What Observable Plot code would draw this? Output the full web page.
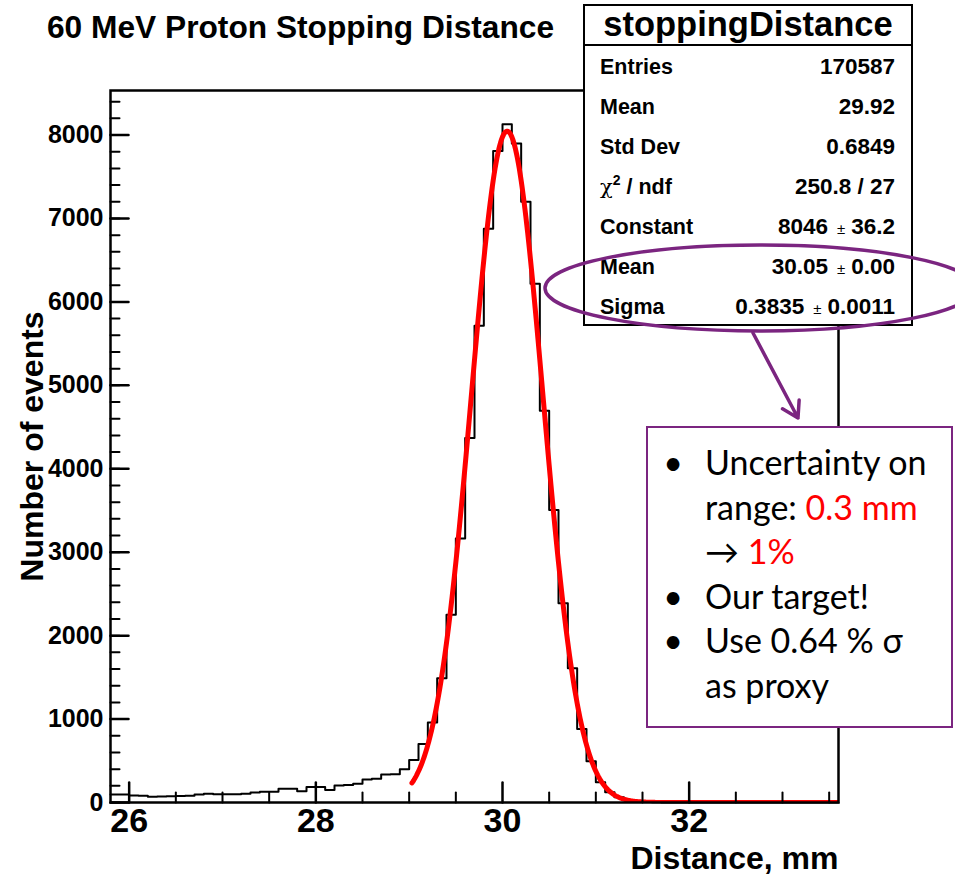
<!DOCTYPE html>
<html><head><meta charset="utf-8">
<script src="https://cdn.jsdelivr.net/npm/d3@7"></script>
<script src="https://cdn.jsdelivr.net/npm/@observablehq/plot@0.6"></script>
<style>
body{margin:0;background:#fff;}
#wrap{position:relative;width:955px;height:874px;overflow:hidden;background:#fff;}
#wrap svg{position:absolute;left:0;top:0;}
</style></head><body><div id="wrap"></div>
<script>
// ---- data ----
const chartTitle = "60 MeV Proton Stopping Distance";
const xTitle = "Distance, mm";
const yTitle = "Number of events";
const binStart = 25.8;
const binWidth = 0.1;
const counts = [
  95, 95, 85, 80, 70, 72, 75, 78, 82, 95,
  105, 100, 100, 100, 105, 120, 130, 130, 165, 165,
  135, 185, 185, 150, 205, 210, 225, 275, 285, 335,
  340, 400, 510, 700, 960, 1490, 2250, 3165, 4370, 5713,
  6878, 7808, 8128, 7900, 7201, 6219, 4695, 3505, 2387, 1609,
  882, 495, 243, 123, 64, 30, 14, 6, 3, 1,
  0, 0, 0, 0, 0, 0, 0, 0, 0, 0,
  0, 0, 0, 0, 0, 0, 0, 0
];
const xDomain = [25.8, 33.6];
const yDomain = [0, 8534];
const xMajorTicks = [26, 28, 30, 32];
const xMinorTicks = [26.5, 27, 27.5, 28.5, 29, 29.5, 30.5, 31, 31.5, 32.5, 33, 33.5];
const yMajorTicks = [0, 1000, 2000, 3000, 4000, 5000, 6000, 7000, 8000];
const yMinorTicks = d3.range(0, 8534, 200);
// Gaussian fit parameters (from stats box)
const fitConstant = 8046;
const fitMean = 30.05;
const fitSigma = 0.3835;
const fitRange = [29.03, 33.6];
// stats box
const statsName = "stoppingDistance";
const statsLabels = ["Entries", "Mean", "Std Dev", "CHI", "Constant", "Mean", "Sigma"];
const statsValues = [["170587"], ["29.92"], ["0.6849"], ["250.8 / 27"], ["8046", "36.2"], ["30.05", "0.00"], ["0.3835", "0.0011"]];
// annotation
const noteLines = [
  {bullet: true, parts: [["Uncertainty on", "black"]]},
  {bullet: false, parts: [["range: ", "black"], ["0.3 mm", "red"]]},
  {bullet: false, parts: [["\u2192 ", "black"], ["1%", "red"]]},
  {bullet: true, parts: [["Our target!", "black"]]},
  {bullet: true, parts: [["Use 0.64 % \u03c3", "black"]]},
  {bullet: false, parts: [["as proxy", "black"]]}
];

// ---- build ----
const wrap = document.getElementById("wrap");
const histPoints = counts.map((c, i) => ({x: +(binStart + i * binWidth).toFixed(2), y: c}));
histPoints.push({x: xDomain[1], y: counts[counts.length - 1]});
const fitPoints = d3.range(fitRange[0], fitRange[1] + 1e-9, 0.01)
  .map(x => ({x, y: fitConstant * Math.exp(-0.5 * ((x - fitMean) / fitSigma) ** 2)}));

const tickShape = {draw(ctx, l) { ctx.moveTo(0, 0); ctx.lineTo(0, -l); }};
const font = '"Liberation Sans", Arial, Helvetica, sans-serif';

const plot = Plot.plot({
  width: 955, height: 874,
  marginLeft: 110, marginRight: 117, marginTop: 90, marginBottom: 72,
  style: {fontFamily: font, fontWeight: "bold", background: "white", color: "black", overflow: "visible"},
  x: {domain: xDomain},
  y: {domain: yDomain},
  marks: [
    Plot.line(histPoints, {x: "x", y: "y", curve: "step-after", stroke: "black", strokeWidth: 2}),
    Plot.line(fitPoints, {x: "x", y: "y", stroke: "#ff0000", strokeWidth: 5, clip: true}),
    Plot.frame({stroke: "black", strokeWidth: 2.5}),
    Plot.vector(yMinorTicks, {y: d => d, frameAnchor: "left", rotate: 90, length: 9, anchor: "start", shape: tickShape, stroke: "black", strokeWidth: 2}),
    Plot.vector(yMajorTicks, {y: d => d, frameAnchor: "left", rotate: 90, length: 18, anchor: "start", shape: tickShape, stroke: "black", strokeWidth: 2.5}),
    Plot.vector(xMinorTicks, {x: d => d, frameAnchor: "bottom", rotate: 0, length: 10, anchor: "start", shape: tickShape, stroke: "black", strokeWidth: 2}),
    Plot.vector(xMajorTicks, {x: d => d, frameAnchor: "bottom", rotate: 0, length: 20, anchor: "start", shape: tickShape, stroke: "black", strokeWidth: 2.5}),
    Plot.axisY({ticks: yMajorTicks, tickSize: 0, tickPadding: 7, fontSize: 25, label: null, tickFormat: d => String(d)}),
    Plot.axisX({ticks: xMajorTicks, tickSize: 0, tickPadding: 5, fontSize: 34, label: null, tickFormat: d => String(d)}),
    Plot.text([xTitle], {frameAnchor: "bottom-right", text: d => d, textAnchor: "end", lineAnchor: "bottom", dy: 66, fontSize: 32, fontWeight: "bold"}),
    Plot.text([yTitle], {frameAnchor: "left", text: d => d, textAnchor: "middle", rotate: -90, dx: -78, fontSize: 32, fontWeight: "bold"})
  ]
});
wrap.appendChild(plot);

// ---- overlay: title, stats box, ellipse, arrow, annotation ----
const purple = "#7b2580";
const ov = d3.select(wrap).append("svg")
  .attr("width", 955).attr("height", 874)
  .style("pointer-events", "none")
  .style("font-family", font);

ov.append("text").attr("x", 47).attr("y", 38)
  .attr("font-size", 31.7).attr("font-weight", "bold").text(chartTitle);

// stats box
const sb = {x: 584, y: 5, w: 328, h: 320, head: 40};
ov.append("rect").attr("x", sb.x).attr("y", sb.y).attr("width", sb.w).attr("height", sb.h)
  .attr("fill", "white").attr("stroke", "black").attr("stroke-width", 2);
ov.append("line").attr("x1", sb.x).attr("x2", sb.x + sb.w).attr("y1", sb.y + sb.head).attr("y2", sb.y + sb.head)
  .attr("stroke", "black").attr("stroke-width", 2);
ov.append("text").attr("x", sb.x + sb.w / 2).attr("y", 36).attr("text-anchor", "middle")
  .attr("font-size", 34.5).attr("font-weight", "bold").text(statsName);
statsLabels.forEach((lab, i) => {
  const yb = 74 + i * 40;
  const t = ov.append("text").attr("x", 600).attr("y", yb).attr("font-size", 21.5).attr("font-weight", "bold");
  if (lab === "CHI") {
    t.append("tspan").attr("font-family", '"DejaVu Serif", "Liberation Serif", serif').attr("font-weight", "normal").attr("font-size", 21).text("\u03c7");
    t.append("tspan").attr("font-size", 14).attr("dy", -9).text("2");
    t.append("tspan").attr("dy", 9).text(" / ndf");
  } else t.text(lab);
  const v = statsValues[i];
  const tv = ov.append("text").attr("x", 895).attr("y", yb).attr("text-anchor", "end")
    .attr("font-size", 22.5).attr("font-weight", "bold");
  tv.append("tspan").text(v[0]);
  if (v.length > 1) {
    tv.append("tspan").attr("font-size", 15).attr("font-weight", "normal").attr("dx", 9).text("\u00b1");
    tv.append("tspan").attr("dx", 6).text(v[1]);
  }
});

// annotation box
const ab = {x: 647, y: 427, w: 305, h: 300};
ov.append("rect").attr("x", ab.x).attr("y", ab.y).attr("width", ab.w).attr("height", ab.h)
  .attr("fill", "white").attr("stroke", purple).attr("stroke-width", 2);
const noteFont = 'Lato, "Open Sans", "Noto Sans", sans-serif';
noteLines.forEach((ln, i) => {
  const yb = 475 + i * 44.6;
  if (ln.bullet) ov.append("text").attr("x", 673).attr("y", yb).attr("text-anchor", "middle")
    .attr("font-family", noteFont).attr("font-size", 34).text("\u2022");
  const t = ov.append("text").attr("x", 705).attr("y", yb).attr("font-family", noteFont).attr("font-size", 34);
  ln.parts.forEach(([s, c]) => t.append("tspan").attr("fill", c === "red" ? "#ff0000" : "black")
    .attr("style", "white-space:pre").text(s));
});

// ellipse
ov.append("ellipse").attr("cx", 760).attr("cy", 288).attr("rx", 215).attr("ry", 43)
  .attr("fill", "none").attr("stroke", purple).attr("stroke-width", 3.5);
// arrow
const a0 = [753, 333], a1 = [798, 418];
const ang = Math.atan2(a1[1] - a0[1], a1[0] - a0[0]);
const wing = (s) => [a1[0] - 18 * Math.cos(ang + s * 0.55), a1[1] - 18 * Math.sin(ang + s * 0.55)];
const w1 = wing(1), w2 = wing(-1);
ov.append("path")
  .attr("d", `M${a0[0]},${a0[1]}L${a1[0]},${a1[1]}M${w1[0]},${w1[1]}L${a1[0]},${a1[1]}L${w2[0]},${w2[1]}`)
  .attr("fill", "none").attr("stroke", purple).attr("stroke-width", 3.5).attr("stroke-linecap", "round").attr("stroke-linejoin", "round");
</script></body></html>
